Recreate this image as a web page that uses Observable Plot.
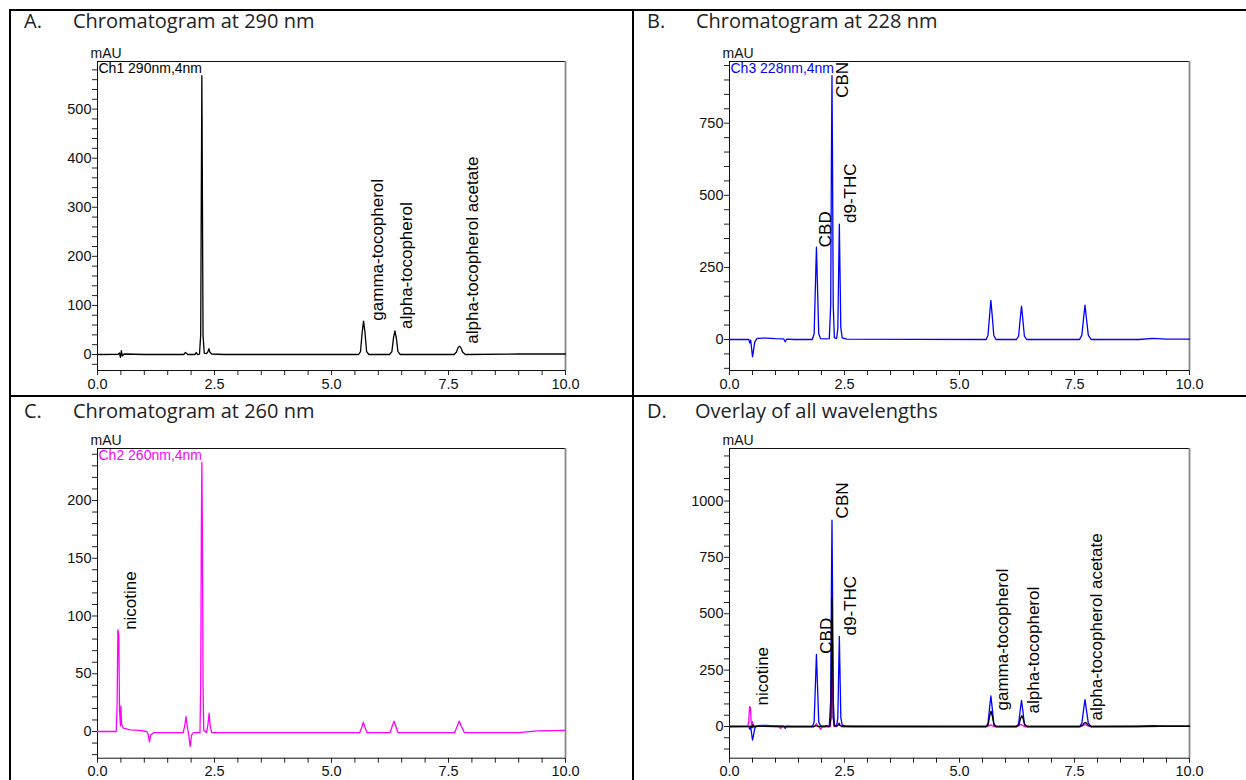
<!DOCTYPE html>
<html>
<head>
<meta charset="utf-8">
<script src="https://cdn.jsdelivr.net/npm/d3@7"></script>
<script src="https://cdn.jsdelivr.net/npm/@observablehq/plot@0.6"></script>
<style>
html, body { margin: 0; padding: 0; background: #fff; }
#page { position: relative; width: 1246px; height: 780px; overflow: hidden; background: #fff; }
.bline { position: absolute; background: #000; }
.hdr { position: absolute; font-family: "Open Sans", sans-serif; font-size: 20px; color: #222; white-space: nowrap; line-height: normal; }
.panel { position: absolute; }
.panel svg { overflow: visible; }
</style>
</head>
<body>
<div id="page">
  <div class="bline" style="left:9px;top:9px;width:1237px;height:2px;"></div>
  <div class="bline" style="left:9px;top:9px;width:2px;height:771px;"></div>
  <div class="bline" style="left:632px;top:9px;width:2px;height:771px;"></div>
  <div class="bline" style="left:9px;top:395px;width:1237px;height:2px;"></div>

  <div class="hdr" style="left:24px;top:7px;">A.</div>
  <div class="hdr" style="left:73px;top:7px;">Chromatogram at 290 nm</div>
  <div class="hdr" style="left:647px;top:7px;">B.</div>
  <div class="hdr" style="left:696px;top:7px;">Chromatogram at 228 nm</div>
  <div class="hdr" style="left:24px;top:397px;">C.</div>
  <div class="hdr" style="left:73px;top:397px;">Chromatogram at 260 nm</div>
  <div class="hdr" style="left:647px;top:397px;">D.</div>
  <div class="hdr" style="left:695px;top:397px;">Overlay of all wavelengths</div>

  <div class="panel" id="pA" style="left:40px;top:40px;"></div>
  <div class="panel" id="pB" style="left:672px;top:40px;"></div>
  <div class="panel" id="pC" style="left:40px;top:426px;"></div>
  <div class="panel" id="pD" style="left:672px;top:426px;"></div>
</div>
<script>
// ---- Data: retention time (min) and absorbance (mAU) ----
const ch1_290 = [
  [0,0],[0.44,0.5],[0.47,3],[0.49,-6],[0.51,8],[0.53,-3],[0.57,1],[1.0,0],[1.84,0],[1.88,4],[1.93,0],
  [2.08,0],[2.11,4],[2.14,0],[2.18,1],[2.205,40],[2.218,320],[2.23,568],[2.242,320],[2.255,40],[2.28,3],
  [2.33,2],[2.36,6],[2.38,12],[2.40,5],[2.44,1],[2.7,0],
  [5.58,0],[5.62,6],[5.655,45],[5.685,68],[5.715,45],[5.75,6],[5.80,0],
  [6.24,0],[6.29,6],[6.325,34],[6.355,48],[6.385,34],[6.42,6],[6.47,0],
  [7.62,0],[7.67,5],[7.705,14],[7.735,17],[7.765,14],[7.80,5],[7.86,0],[9.0,1],[10,1]
];
const ch3_228 = [
  [0,0],[0.42,0],[0.44,-12],[0.46,-2],[0.48,-30],[0.5,-60],[0.52,-40],[0.55,-8],[0.6,4],[0.8,5],[1.0,3],
  [1.18,2],[1.21,-8],[1.24,1],[1.4,0],[1.80,0],[1.84,20],[1.87,200],[1.89,320],[1.91,200],[1.94,20],[1.98,3],
  [2.1,2],[2.17,3],[2.20,120],[2.215,600],[2.228,915],[2.24,600],[2.255,120],[2.28,6],[2.33,4],
  [2.355,40],[2.375,260],[2.388,400],[2.40,260],[2.42,40],[2.45,6],[2.55,1],
  [5.58,0],[5.62,15],[5.655,85],[5.682,136],[5.71,85],[5.745,15],[5.79,0],
  [6.24,0],[6.285,12],[6.32,72],[6.348,116],[6.376,72],[6.41,12],[6.46,0],
  [7.61,0],[7.66,15],[7.70,78],[7.728,119],[7.756,78],[7.80,15],[7.86,0],[8.9,0],[9.2,4],[9.5,1],[10,1]
];
const ch2_260 = [
  [0,0],[0.40,0],[0.42,25],[0.435,88],[0.455,84],[0.47,20],[0.49,5],[0.50,22],[0.515,6],[0.55,3],
  [0.7,1.5],[0.9,1],[1.05,0],[1.08,-2],[1.11,-9],[1.135,-3],[1.2,-1],[1.5,-1],[1.83,-1],[1.865,5],
  [1.89,13],[1.915,5],[1.95,-3],[1.98,-13],[2.01,-3],[2.05,-1],[2.19,-1],[2.205,40],[2.22,180],
  [2.23,233],[2.24,180],[2.255,40],[2.27,1],[2.33,-1],[2.36,6],[2.385,16],[2.405,6],[2.44,-1],[2.6,-1],
  [5.60,-1],[5.65,4],[5.68,8],[5.71,4],[5.76,-1],[6.25,-1],[6.30,5],[6.335,9],[6.37,5],[6.42,-1],
  [7.63,-1],[7.69,5],[7.73,9],[7.77,5],[7.84,-1],[9.0,-1],[9.4,0.5],[10,1]
];

// Peak labels: name, time at label centre, mAU at label base
const labelsA = [["gamma-tocopherol",5.98,69],["alpha-tocopherol",6.60,52],["alpha-tocopherol acetate",8.01,22]];
const labelsB = [["CBD",2.09,320],["CBN",2.46,838],["d9-THC",2.63,404]];
const labelsC = [["nicotine",0.70,88]];
const labelsD = [["nicotine",0.71,93],["CBD",2.12,323],["CBN",2.45,923],["d9-THC",2.63,404],
                 ["gamma-tocopherol",5.93,71],["alpha-tocopherol",6.61,58],["alpha-tocopherol acetate",7.99,27]];

// Axis ticks
const xMajor = [0, 2.5, 5, 7.5, 10];
const xMinor = [0.5,1,1.5,2,3,3.5,4,4.5,5.5,6,6.5,7,8,8.5,9,9.5];
const yMajorA = [0,100,200,300,400,500];
const yMajorB = [0,250,500,750];
const yMajorC = [0,50,100,150,200];
const yMajorD = [0,250,500,750,1000];
const yDomainA = [-32.6, 597];
const yDomainB = [-107.5, 964];
const yDomainC = [-23.1, 245];
const yDomainD = [-140.6, 1233];

const channels = {
  ch1: {data: ch1_290, color: "#000000", name: "Ch1 290nm,4nm"},
  ch2: {data: ch2_260, color: "#ff00ff", name: "Ch2 260nm,4nm"},
  ch3: {data: ch3_228, color: "#0000ff", name: "Ch3 228nm,4nm"}
};

const FONT = "'Liberation Sans', Arial, sans-serif";

function chart({series, chLabel, chColor, yDomain, yMajor, yMinorStep, labels, marginRight, marginTop, marginBottom, height}) {
  const yMinor = d3.range(Math.ceil(yDomain[0] / yMinorStep) * yMinorStep, yDomain[1], yMinorStep).filter(v => !yMajor.includes(v));
  const marks = [
    Plot.axisX(xMajor, {tickSize: 5, tickPadding: 3, tickFormat: d3.format(".1f"), fontSize: 14.5, stroke: "#222", fill: "#111"}),
    Plot.axisX(xMinor, {tickSize: 5, tickFormat: () => "", stroke: "#222"}),
    Plot.axisY(yMajor, {tickSize: 5, tickPadding: 1, tickFormat: d3.format("d"), fontSize: 14.5, stroke: "#222", fill: "#111"}),
    Plot.axisY(yMinor, {tickSize: 5, tickFormat: () => "", stroke: "#222"}),
    Plot.frame({stroke: "#111", strokeWidth: 1}),
    Plot.ruleX([10], {stroke: "#888", strokeWidth: 1.8}),
    ...series.map(s => Plot.line(s.data, {x: d => d[0], y: d => d[1], stroke: s.color, strokeWidth: 1.3, curve: "linear"})),
    Plot.text(["mAU"], {frameAnchor: "top-left", dx: -7, dy: -4, textAnchor: "start", lineAnchor: "bottom", fontSize: 14, fill: "#111"}),
    Plot.text(labels, {x: d => d[1], y: d => d[2], text: d => d[0], rotate: -90, textAnchor: "start", lineAnchor: "middle", fontSize: 17, fill: "#000"})
  ];
  if (chLabel) marks.push(Plot.text([chLabel], {frameAnchor: "top-left", dx: 1, dy: 2, textAnchor: "start", lineAnchor: "top", fontSize: 14, fill: chColor}));
  return Plot.plot({
    width: 560,
    height,
    marginLeft: 57,
    marginRight,
    marginTop,
    marginBottom,
    x: {domain: [0, 10], axis: null},
    y: {domain: yDomain, axis: null},
    style: {fontFamily: FONT, fontSize: "14px", color: "#111", background: "transparent", overflow: "visible"},
    marks
  });
}

document.getElementById("pA").append(chart({
  series: [channels.ch1], chLabel: channels.ch1.name, chColor: channels.ch1.color,
  yDomain: yDomainA, yMajor: yMajorA, yMinorStep: 20, labels: labelsA,
  marginRight: 35, marginTop: 21, marginBottom: 25, height: 355
}));
document.getElementById("pB").append(chart({
  series: [channels.ch3], chLabel: channels.ch3.name, chColor: channels.ch3.color,
  yDomain: yDomainB, yMajor: yMajorB, yMinorStep: 50, labels: labelsB,
  marginRight: 43, marginTop: 21, marginBottom: 25, height: 355
}));
document.getElementById("pC").append(chart({
  series: [channels.ch2], chLabel: channels.ch2.name, chColor: channels.ch2.color,
  yDomain: yDomainC, yMajor: yMajorC, yMinorStep: 10, labels: labelsC,
  marginRight: 35, marginTop: 22, marginBottom: 22.3, height: 354
}));
document.getElementById("pD").append(chart({
  series: [channels.ch3, channels.ch2, channels.ch1], chLabel: null, chColor: null,
  yDomain: yDomainD, yMajor: yMajorD, yMinorStep: 50, labels: labelsD,
  marginRight: 43, marginTop: 22, marginBottom: 22.3, height: 354
}));
</script>
</body>
</html>
